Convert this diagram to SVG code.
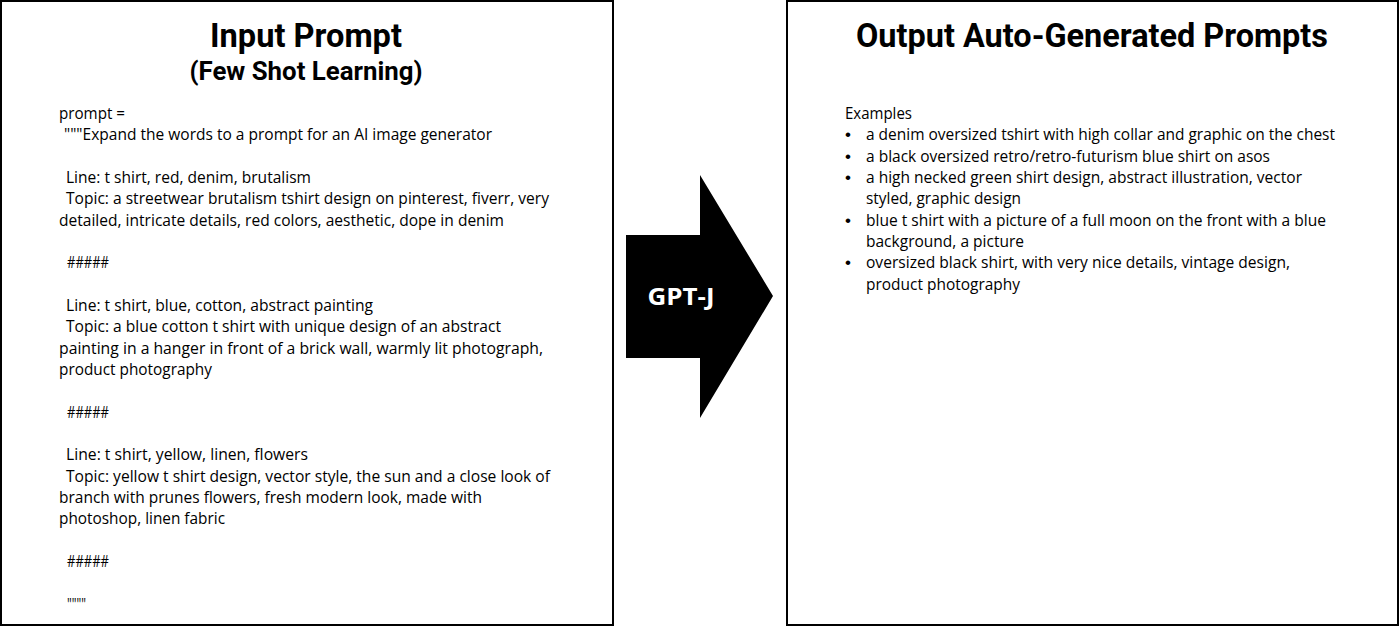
<svg xmlns="http://www.w3.org/2000/svg" width="1400" height="626" viewBox="0 0 1400 626">
<style>
.box{fill:#fff;stroke:#000;stroke-width:2}
.title{font-family:Roboto,"Liberation Sans",sans-serif;font-weight:bold;fill:#000;text-anchor:middle}
.t{font-family:"Open Sans","Liberation Sans",sans-serif;font-size:16.5px;fill:#000}
.b{font-family:"Liberation Sans",sans-serif;font-size:17px;fill:#000}
.lbl{font-family:"Open Sans","Liberation Sans",sans-serif;font-weight:bold;font-size:24px;fill:#fff;text-anchor:middle}
</style>
<rect width="1400" height="626" fill="#fff"/>
<g id="input-prompt">
<rect class="box" x="1" y="1" width="612" height="624"/>
<text class="title" x="306" y="47" font-size="33" textLength="192" lengthAdjust="spacingAndGlyphs">Input Prompt</text>
<text class="title" x="306" y="80" font-size="26" textLength="233" lengthAdjust="spacingAndGlyphs">(Few Shot Learning)</text>
<text class="t" x="59" y="119" textLength="66" lengthAdjust="spacingAndGlyphs">prompt =</text>
<text class="t" x="64" y="140.3" textLength="428" lengthAdjust="spacingAndGlyphs">"""Expand the words to a prompt for an AI image generator</text>
<text class="t" x="66" y="183" textLength="245" lengthAdjust="spacingAndGlyphs">Line: t shirt, red, denim, brutalism</text>
<text class="t" x="66" y="204.3" textLength="483" lengthAdjust="spacingAndGlyphs">Topic: a streetwear brutalism tshirt design on pinterest, fiverr, very</text>
<text class="t" x="59" y="225.7" textLength="445" lengthAdjust="spacingAndGlyphs">detailed, intricate details, red colors, aesthetic, dope in denim</text>
<text class="t" x="67" y="268.3" textLength="42" lengthAdjust="spacingAndGlyphs">#####</text>
<text class="t" x="66" y="311" textLength="307" lengthAdjust="spacingAndGlyphs">Line: t shirt, blue, cotton, abstract painting</text>
<text class="t" x="66" y="332.3" textLength="435" lengthAdjust="spacingAndGlyphs">Topic: a blue cotton t shirt with unique design of an abstract</text>
<text class="t" x="59" y="353.7" textLength="484" lengthAdjust="spacingAndGlyphs">painting in a hanger in front of a brick wall, warmly lit photograph,</text>
<text class="t" x="59" y="375" textLength="153" lengthAdjust="spacingAndGlyphs">product photography</text>
<text class="t" x="67" y="417.7" textLength="42" lengthAdjust="spacingAndGlyphs">#####</text>
<text class="t" x="66" y="460.3" textLength="242" lengthAdjust="spacingAndGlyphs">Line: t shirt, yellow, linen, flowers</text>
<text class="t" x="66" y="481.7" textLength="484" lengthAdjust="spacingAndGlyphs">Topic: yellow t shirt design, vector style, the sun and a close look of</text>
<text class="t" x="59" y="503" textLength="423" lengthAdjust="spacingAndGlyphs">branch with prunes flowers, fresh modern look, made with</text>
<text class="t" x="59" y="524.3" textLength="166" lengthAdjust="spacingAndGlyphs">photoshop, linen fabric</text>
<text class="t" x="67" y="567" textLength="42" lengthAdjust="spacingAndGlyphs">#####</text>
<text class="t" x="67" y="609.7" textLength="19" lengthAdjust="spacingAndGlyphs">""""</text>
</g>
<g id="connectors">
<g id="gpt-j">
<polygon points="626,235 700,235 700,175 773,296 700,418 700,358 626,358" fill="#000"/>
<text class="lbl" x="681" y="305" textLength="67" lengthAdjust="spacingAndGlyphs">GPT-J</text>
</g>
</g>
<g id="output-prompts">
<rect class="box" x="787" y="1" width="611" height="624"/>
<text class="title" x="1092" y="47" font-size="33" textLength="472" lengthAdjust="spacingAndGlyphs">Output Auto-Generated Prompts</text>
<text class="t" x="845" y="119" textLength="67" lengthAdjust="spacingAndGlyphs">Examples</text>
<text class="b" x="845" y="140.3">•</text>
<text class="b" x="845" y="161.7">•</text>
<text class="b" x="845" y="183">•</text>
<text class="b" x="845" y="225.7">•</text>
<text class="b" x="845" y="268.3">•</text>
<text class="t" x="866" y="140.3" textLength="469" lengthAdjust="spacingAndGlyphs">a denim oversized tshirt with high collar and graphic on the chest</text>
<text class="t" x="866" y="161.7" textLength="404" lengthAdjust="spacingAndGlyphs">a black oversized retro/retro-futurism blue shirt on asos</text>
<text class="t" x="866" y="183" textLength="436" lengthAdjust="spacingAndGlyphs">a high necked green shirt design, abstract illustration, vector</text>
<text class="t" x="866" y="204.3" textLength="155" lengthAdjust="spacingAndGlyphs">styled, graphic design</text>
<text class="t" x="866" y="225.7" textLength="460" lengthAdjust="spacingAndGlyphs">blue t shirt with a picture of a full moon on the front with a blue</text>
<text class="t" x="866" y="247" textLength="158" lengthAdjust="spacingAndGlyphs">background, a picture</text>
<text class="t" x="866" y="268.3" textLength="424" lengthAdjust="spacingAndGlyphs">oversized black shirt, with very nice details, vintage design,</text>
<text class="t" x="866" y="289.7" textLength="154" lengthAdjust="spacingAndGlyphs">product photography</text>
</g>
</svg>
